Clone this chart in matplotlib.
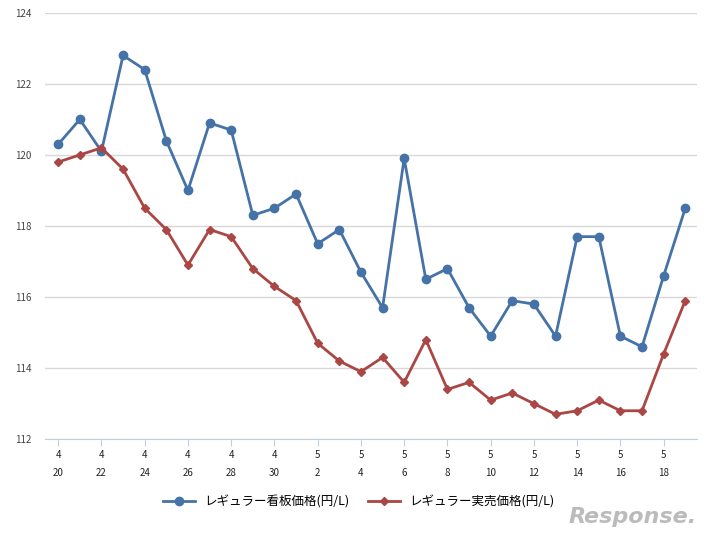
import matplotlib.pyplot as plt
import numpy as np

plt.rcParams['font.family'] = 'Noto Sans CJK JP'

months = [4]*11 + [5]*19
days = list(range(20, 31)) + list(range(1, 20))
kanban = [120.3, 121.0, 120.1, 122.8, 122.4, 120.4, 119.0, 120.9, 120.7, 118.3,
          118.5, 118.9, 117.5, 117.9, 116.7, 115.7, 119.9, 116.5, 116.8, 115.7,
          114.9, 115.9, 115.8, 114.9, 117.7, 117.7, 114.9, 114.6, 116.6, 118.5]
jitsubai = [119.8, 120.0, 120.2, 119.6, 118.5, 117.9, 116.9, 117.9, 117.7, 116.8,
            116.3, 115.9, 114.7, 114.2, 113.9, 114.3, 113.6, 114.8, 113.4, 113.6,
            113.1, 113.3, 113.0, 112.7, 112.8, 113.1, 112.8, 112.8, 114.4, 115.9]
labels = ['レギュラー看板価格(円/L)', 'レギュラー実売価格(円/L)']

fig = plt.figure(figsize=(7.18, 5.33), dpi=100)
ax = fig.add_axes([0.063, 0.176, 0.908, 0.8])
x = np.arange(len(days))
ax.plot(x, kanban, color='#4572a7', lw=2, marker='o', ms=6, label=labels[0])
ax.plot(x, jitsubai, color='#aa4643', lw=2, marker='D', ms=4.5, label=labels[1])

ax.set_xlim(-0.6, 29.55)
ax.set_ylim(112, 124)
ax.set_yticks(range(112, 125, 2))
ax.set_xticks(x[::2])
ax.set_xticklabels([f'{m}\n{d}' for m, d in zip(months[::2], days[::2])],
                   fontsize=7, linespacing=2.0)
ax.tick_params(axis='y', labelsize=7, length=0, pad=10, colors='#444444')
ax.tick_params(axis='x', length=5, color='#c0d0e0', colors='#222222', pad=3)
ax.grid(axis='y', color='#d8d8d8', lw=1)
ax.set_axisbelow(True)
for s in ['top', 'right', 'left']:
    ax.spines[s].set_visible(False)
ax.spines['bottom'].set_color('#c0d0e0')

fig.legend(loc='center', bbox_to_anchor=(0.5, 0.058), ncol=2, frameon=False,
           fontsize=9, handlelength=2.5, columnspacing=1.5)
fig.text(0.97, 0.03, 'Response.', ha='right', va='center', fontsize=16,
         style='italic', color='#bbbbbb', family='DejaVu Sans', weight='bold')
fig.savefig('out.png', dpi=100)
